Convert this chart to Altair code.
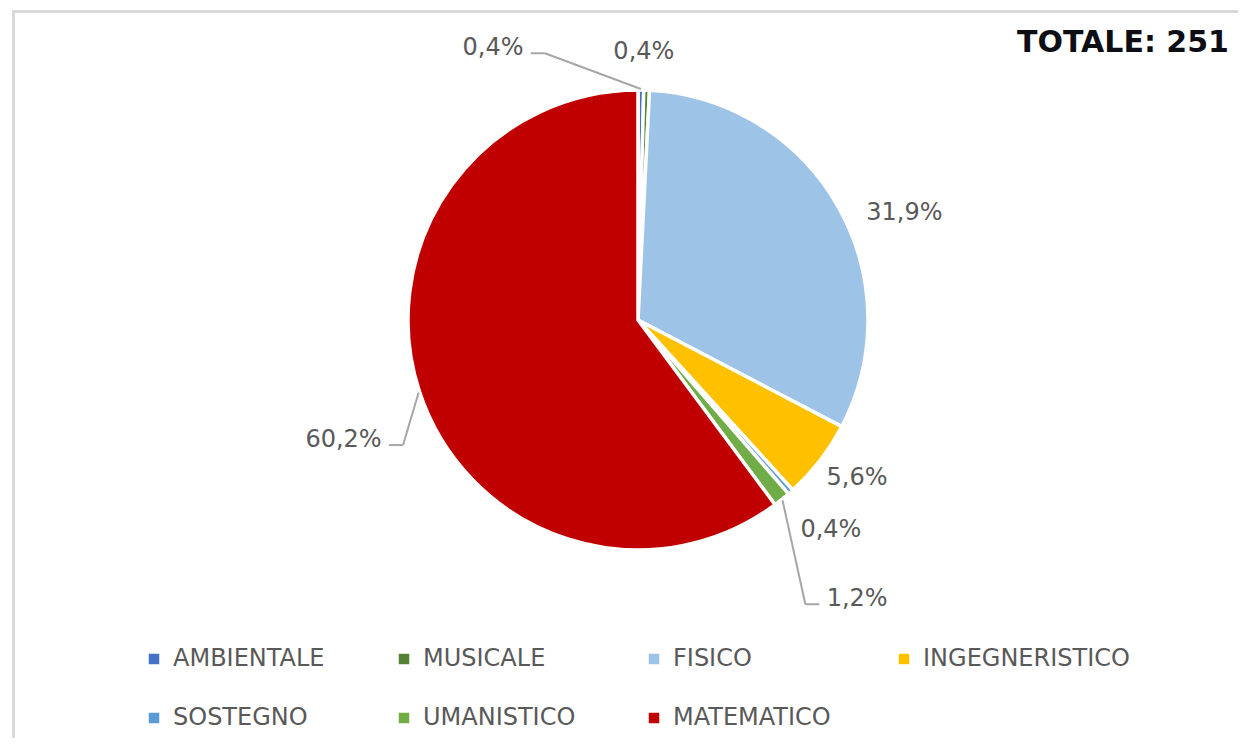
import altair as alt
import pandas as pd

# ---------------- data ----------------
categories = ["AMBIENTALE", "MUSICALE", "FISICO", "INGEGNERISTICO",
              "SOSTEGNO", "UMANISTICO", "MATEMATICO"]
counts = [1, 1, 80, 14, 1, 3, 151]
colors = ["#4472C4", "#548235", "#9DC3E6", "#FFC000",
          "#5B9BD5", "#70AD47", "#C00000"]
total_text = "TOTALE: 251"

# ---------------- layout (not data) ----------------
W, H = 1230, 730
CX, CY, R = 630, 312, 230
# label placement: distance from centre and angular nudge (deg) from slice middle
label_radius = {"AMBIENTALE": 308, "MUSICALE": 268, "FISICO": 287,
                "INGEGNERISTICO": 270, "SOSTEGNO": 285, "UMANISTICO": 355,
                "MATEMATICO": 318}
label_turn = {"AMBIENTALE": -28.8, "MUSICALE": -0.9, "FISICO": 7.9,
              "INGEGNERISTICO": -1.85, "SOSTEGNO": -1.0, "UMANISTICO": 0.6,
              "MATEMATICO": -3.9}
# side of the label where a leader line attaches (0 = no leader)
leader_side = {"AMBIENTALE": 1, "UMANISTICO": -1, "MATEMATICO": 1}

df = pd.DataFrame({
    "categoria": categories,
    "count": counts,
    "idx": list(range(len(categories))),
    "lr": [label_radius[c] for c in categories],
    "turn": [label_turn[c] for c in categories],
    "side": [leader_side.get(c, 0) for c in categories],
})

base = (
    alt.Chart(df)
    .transform_joinaggregate(total="sum(count)")
    .transform_window(cum="sum(count)", sort=[alt.SortField("idx")], frame=[None, 0])
    .transform_calculate(
        mid="2*PI*(datum.cum - datum.count/2)/datum.total",
        pct="replace(format(100*datum.count/datum.total, '.1f'), '.', ',') + '%'",
    )
    .transform_calculate(la="datum.mid + datum.turn*PI/180")
    .transform_calculate(
        lx=f"{CX} + datum.lr*sin(datum.la)",
        ly=f"{CY} - datum.lr*cos(datum.la)",
        ex=f"{CX} + {R + 1}*sin(datum.mid)",
        ey=f"{CY} - {R + 1}*cos(datum.mid)",
    )
    .transform_calculate(
        tx="datum.lx + datum.side*(length(datum.pct)*7.7 + 7)",
        ty="datum.ly + 5",
    )
    .transform_calculate(bx="datum.tx + datum.side*14")
)

pie = alt.Chart(df).mark_arc(outerRadius=R, stroke="white", strokeWidth=3.5).encode(
    theta=alt.Theta("count:Q", stack=True),
    order=alt.Order("idx:Q"),
    color=alt.Color(
        "categoria:N",
        scale=alt.Scale(domain=categories, range=colors),
        legend=alt.Legend(
            title=None, orient="none", legendX=134, legendY=639,
            direction="horizontal", columns=4, gridAlign="all",
            symbolType="square", symbolSize=110, symbolStrokeWidth=0,
            labelFont="DejaVu Sans", labelFontSize=24, labelColor="#595959",
            labelOffset=7, columnPadding=12, rowPadding=35, padding=0,
            labelLimit=400,
        ),
    ),
    x=alt.value(CX),
    y=alt.value(CY),
)

labels = base.mark_text(
    font="DejaVu Sans", fontSize=24, color="#595959",
    align="center", baseline="middle",
).encode(
    x=alt.X("lx:Q", scale=None),
    y=alt.Y("ly:Q", scale=None),
    text="pct:N",
)

leader_a = base.transform_filter("datum.side != 0").mark_rule(
    color="#A6A6A6", strokeWidth=2
).encode(
    x=alt.X("ex:Q", scale=None), y=alt.Y("ey:Q", scale=None),
    x2="bx:Q", y2="ty:Q",
)
leader_b = base.transform_filter("datum.side != 0").mark_rule(
    color="#A6A6A6", strokeWidth=2
).encode(
    x=alt.X("bx:Q", scale=None), y=alt.Y("ty:Q", scale=None),
    x2="tx:Q", y2="ty:Q",
)

one = pd.DataFrame({"t": [total_text]})
total = alt.Chart(one).mark_text(
    font="DejaVu Sans", fontWeight="bold", fontSize=30, color="#0D0D14",
    align="left", baseline="alphabetic",
).encode(x=alt.value(1009), y=alt.value(44), text="t:N")

frame_top = alt.Chart(one).mark_rule(color="#D9D9D9", strokeWidth=3).encode(
    x=alt.value(4), x2=alt.value(W), y=alt.value(3.5)
)
frame_left = alt.Chart(one).mark_rule(color="#D9D9D9", strokeWidth=3).encode(
    x=alt.value(5.5), y=alt.value(2), y2=alt.value(H)
)

chart = (
    alt.layer(frame_top, frame_left, pie, leader_a, leader_b, labels, total)
    .properties(width=W, height=H, padding=0, autosize=alt.AutoSizeParams(type="none"))
    .configure_view(stroke=None)
)

chart.save("out.html", embed_options={"renderer": "svg", "actions": False})
